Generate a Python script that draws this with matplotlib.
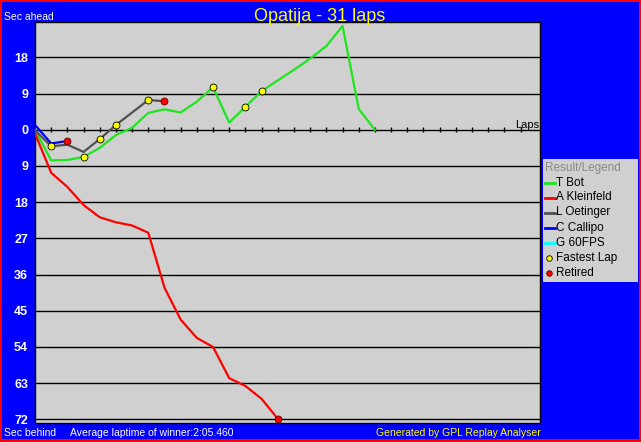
import matplotlib
matplotlib.use('Agg')
import matplotlib.pyplot as plt
from matplotlib.patches import Rectangle
import numpy as np

W, H = 641, 442

# lap-by-lap gap to leader in seconds (+ ahead, - behind)
tbot = [0, -7.6, -7.5, -6.75, -4.5, -1.3, 0.5, 4.2, 5.1, 4.3, 7.0, 10.6, 1.8,
        5.7, 9.6, 12.3, 14.9, 17.7, 20.8, 25.8, 5.2, 0]
kleinfeld = [-0.9, -10.7, -14.2, -18.7, -21.75, -23.0, -23.8, -25.6, -39.25,
             -47.2, -51.75, -54.0, -61.75, -63.7, -66.9, -71.85]
oetinger = [-0.1, -4.1, -3.7, -5.5, -2.3, 1.2, 4.3, 7.4, 7.1]
callipo = [1.2, -3.4, -2.8]
fps60 = []

drivers = ['T Bot', 'A Kleinfeld', 'L Oetinger', 'C Callipo', 'G 60FPS']
series = [tbot, kleinfeld, oetinger, callipo, fps60]
colors = ['#1ee61e', '#ff0000', '#505050', '#0000ff', '#00ffff']

# laps where a fastest lap was set / where the driver retired
fastest = {'T Bot': [3, 11, 13, 14], 'L Oetinger': [1, 4, 5, 7]}
retired = {'A Kleinfeld': 15, 'L Oetinger': 8, 'C Callipo': 2}

total_laps = 31
grid_vals = [18, 9, 0, -9, -18, -27, -36, -45, -54, -63, -72]


def px(x, y):
    return x / W, 1 - y / H


fig = plt.figure(figsize=(W / 100, H / 100), dpi=100, facecolor='#ff0000')
fig.add_artist(Rectangle(px(2, 439), 637 / W, 437 / H, transform=fig.transFigure,
                         facecolor='#0000ff', edgecolor='none', zorder=-5))

l, b = px(35, 423)
r, t = px(540, 22)
ax = fig.add_axes([l, b, r - l, t - b], facecolor='#d0d0d0')
ax.set_xlim(0, 31.2)
ax.set_ylim(-72.9, 26.8)

for g in grid_vals:
    ax.axhline(g, color='black', lw=1.0, zorder=1)
ax.vlines(np.arange(1, total_laps), -0.65, 0.65, color='black', lw=1.0, zorder=1)

for name, vals, c in zip(drivers, series, colors):
    if not vals:
        continue
    ax.plot(np.arange(len(vals)), vals, color=c, lw=1.6, zorder=3)

for name, laps in fastest.items():
    vals = series[drivers.index(name)]
    ax.plot(laps, [vals[i] for i in laps], 'o', ms=5, mfc='#ffff00', mec='black',
            mew=0.6, zorder=4)
for name, lap in retired.items():
    vals = series[drivers.index(name)]
    ax.plot([lap], [vals[lap]], 'o', ms=5, mfc='#ff0000', mec='#600000',
            mew=0.6, zorder=4)

ax.set_xticks([])
ax.set_yticks(grid_vals)
ax.set_yticklabels([str(abs(v)) for v in grid_vals], color='white',
                   fontweight='bold', fontsize=9, family='Liberation Sans')
ax.tick_params(axis='y', length=0, pad=5)
for s in ax.spines.values():
    s.set_color('black')
    s.set_linewidth(1.0)

ax.text(0.998, 0.0, 'Laps', transform=ax.get_yaxis_transform(), ha='right',
        va='bottom', fontsize=8, family='Liberation Sans', color='black')

# texts around the plot
fig.text(*px(4, 20), 'Sec ahead', color='white', fontsize=7.5,
         family='Liberation Sans', va='baseline')
fig.text(*px(320, 21), 'Opatija - 31 laps', color='#ffff00', fontsize=13,
         family='Liberation Sans', ha='center', va='baseline')
fig.text(*px(4, 436), 'Sec behind', color='white', fontsize=7.5,
         family='Liberation Sans', va='baseline')
fig.text(*px(70, 436), 'Average laptime of winner:2:05.460', color='white',
         fontsize=7.5, family='Liberation Sans', va='baseline')
fig.text(*px(541, 436), 'Generated by GPL Replay Analyser', color='#ffff00',
         fontsize=7.5, family='Liberation Sans', ha='right', va='baseline')

# legend box
ll, lb = px(543, 282)
lr, lt = px(638, 159)
lax = fig.add_axes([ll, lb, lr - ll, lt - lb], facecolor='#d0d0d0')
lax.set_xlim(0, 95)
lax.set_ylim(123, 0)
lax.set_xticks([])
lax.set_yticks([])
for s in lax.spines.values():
    s.set_visible(False)
lax.text(2, 8.5, 'Result/Legend', color='#8a8a8a', fontsize=8.5,
         family='Liberation Sans', va='center')
rows = drivers + ['Fastest Lap', 'Retired']
for i, name in enumerate(rows):
    y = 23.5 + 15 * i
    if i < len(drivers):
        lax.plot([2.3, 12], [y, y], color=colors[i], lw=2)
    elif name == 'Fastest Lap':
        lax.plot([6], [y], 'o', ms=4, mfc='#ffff00', mec='black', mew=0.6)
    else:
        lax.plot([6], [y], 'o', ms=4, mfc='#ff0000', mec='#600000', mew=0.6)
    lax.text(13, y, name, color='black', fontsize=8.5, family='Liberation Sans',
             va='center')

fig.savefig('out.png', dpi=100, facecolor=fig.get_facecolor())
